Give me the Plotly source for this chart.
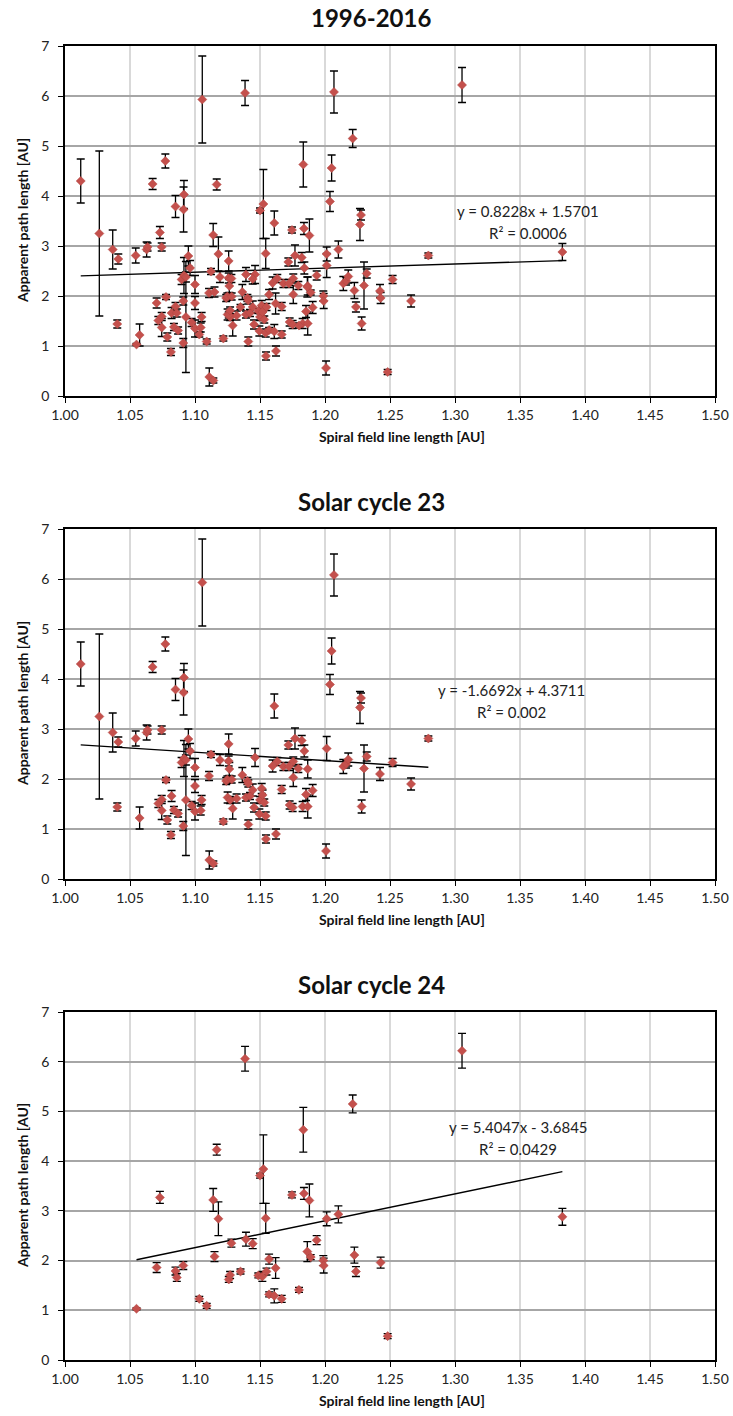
import plotly.graph_objects as go

# ---------------- data ----------------
# Solar cycle 23: spiral field line length [AU], apparent path length [AU], error
c23_x = [1.0121, 1.0264, 1.0367, 1.0402, 1.0410, 1.0544, 1.0574, 1.0628, 1.0635, 1.0674,
         1.0718, 1.0744, 1.0744, 1.0744, 1.0772, 1.0777, 1.0787, 1.0815, 1.0820, 1.0838,
         1.0850, 1.0870, 1.0897, 1.0910, 1.0912, 1.0915, 1.0915, 1.0930, 1.0930, 1.0949,
         1.0962, 1.0974, 1.1000, 1.1000, 1.1000, 1.1044, 1.1051, 1.1056, 1.1108, 1.1110,
         1.1123, 1.1141, 1.1192, 1.1218, 1.1240, 1.1249, 1.1251, 1.1259, 1.1259, 1.1264,
         1.1270, 1.1282, 1.1290, 1.1320, 1.1364, 1.1392, 1.1403, 1.1410, 1.1410, 1.1423,
         1.1444, 1.1454, 1.1462, 1.1495, 1.1500, 1.1513, 1.1520, 1.1533, 1.1544, 1.1546,
         1.1597, 1.1610, 1.1623, 1.1633, 1.1667, 1.1680, 1.1718, 1.1723, 1.1728, 1.1751,
         1.1756, 1.1756, 1.1769, 1.1795, 1.1821, 1.1828, 1.1841, 1.1854, 1.1867, 1.1867,
         1.1905, 1.2008, 1.2013, 1.2038, 1.2051, 1.2069, 1.2141, 1.2162, 1.2179, 1.2269,
         1.2277, 1.2282, 1.2300, 1.2321, 1.2423, 1.2520, 1.2662, 1.2795]
c23_y = [4.30, 3.25, 2.93, 1.44, 2.74, 2.81, 1.22, 2.93, 2.98, 4.24,
         1.51, 2.98, 1.59, 1.37, 4.70, 1.98, 1.18, 0.88, 1.66, 1.38,
         3.79, 1.31, 2.33, 1.06, 3.73, 4.03, 2.41, 2.38, 1.58, 2.80,
         2.56, 1.47, 2.23, 1.86, 1.35, 1.37, 1.58, 5.93, 2.06, 0.38,
         2.49, 0.31, 2.38, 1.15, 1.96, 1.99, 1.63, 2.70, 2.36, 2.20,
         1.58, 1.99, 1.41, 1.61, 2.08, 1.63, 1.96, 1.91, 1.09, 1.66,
         1.78, 1.43, 2.43, 1.30, 1.58, 1.81, 1.68, 1.53, 1.26, 0.80,
         2.26, 3.46, 0.90, 2.35, 1.79, 2.25, 2.68, 2.25, 1.48, 1.43,
         2.35, 2.03, 2.81, 2.21, 2.77, 1.45, 2.56, 1.69, 2.20, 1.45,
         1.77, 0.56, 2.61, 3.89, 4.56, 6.08, 2.25, 2.30, 2.39, 3.43,
         3.62, 1.45, 2.21, 2.45, 2.10, 2.33, 1.90, 2.81]
c23_err = [0.44, 1.65, 0.39, 0.08, 0.10, 0.15, 0.22, 0.15, 0.08, 0.11,
           0.08, 0.08, 0.08, 0.18, 0.14, 0.05, 0.08, 0.07, 0.11, 0.07,
           0.22, 0.07, 0.10, 0.09, 0.45, 0.28, 0.36, 0.10, 1.11, 0.20,
           0.15, 0.08, 0.18, 0.13, 0.17, 0.09, 0.09, 0.87, 0.09, 0.18,
           0.06, 0.05, 0.11, 0.05, 0.07, 0.07, 0.11, 0.20, 0.10, 0.13,
           0.07, 0.07, 0.21, 0.09, 0.15, 0.07, 0.07, 0.07, 0.09, 0.07,
           0.12, 0.09, 0.18, 0.10, 0.07, 0.10, 0.10, 0.07, 0.08, 0.08,
           0.12, 0.24, 0.10, 0.08, 0.08, 0.08, 0.08, 0.08, 0.08, 0.08,
           0.09, 0.18, 0.21, 0.08, 0.10, 0.10, 0.12, 0.12, 0.18, 0.23,
           0.12, 0.14, 0.24, 0.20, 0.26, 0.42, 0.14, 0.08, 0.13, 0.32,
           0.10, 0.13, 0.47, 0.09, 0.13, 0.08, 0.12, 0.05]

# Solar cycle 24
c24_x = [1.0550, 1.0705, 1.0730, 1.0850, 1.0860, 1.0910, 1.1033, 1.1090, 1.1140, 1.1150,
         1.1167, 1.1180, 1.1260, 1.1270, 1.1280, 1.1350, 1.1385, 1.1392, 1.1444, 1.1487,
         1.1500, 1.1518, 1.1526, 1.1544, 1.1550, 1.1570, 1.1570, 1.1610, 1.1620, 1.1667,
         1.1746, 1.1800, 1.1833, 1.1838, 1.1864, 1.1880, 1.1890, 1.1936, 1.1987, 1.1990,
         1.2013, 1.2103, 1.2213, 1.2226, 1.2238, 1.2428, 1.2482, 1.3054, 1.3826]
c24_y = [1.03, 1.86, 3.27, 1.79, 1.66, 1.90, 1.23, 1.09, 3.22, 2.08,
         4.23, 2.84, 1.62, 1.71, 2.35, 1.78, 6.06, 2.43, 2.34, 1.70,
         3.71, 1.68, 3.84, 2.85, 1.78, 2.03, 1.32, 1.29, 1.85, 1.23,
         3.32, 1.41, 4.63, 3.35, 2.18, 3.21, 2.07, 2.41, 2.00, 1.90,
         2.84, 2.93, 5.15, 2.11, 1.78, 1.96, 0.48, 6.22, 2.88]
c24_err = [0.02, 0.10, 0.12, 0.08, 0.08, 0.08, 0.05, 0.05, 0.23, 0.10,
           0.11, 0.34, 0.06, 0.07, 0.08, 0.05, 0.25, 0.14, 0.10, 0.05,
           0.05, 0.10, 0.69, 0.30, 0.07, 0.10, 0.05, 0.14, 0.21, 0.07,
           0.06, 0.05, 0.45, 0.12, 0.20, 0.33, 0.05, 0.09, 0.10, 0.15,
           0.14, 0.17, 0.18, 0.16, 0.10, 0.11, 0.05, 0.35, 0.17]

# trend line equations (slope, intercept, R²) shown on the chart
titles = ["1996-2016", "Solar cycle 23", "Solar cycle 24"]
fits = [(0.8228, 1.5701, "0.0006"), (-1.6692, 4.3711, "0.002"), (5.4047, -3.6845, "0.0429")]
eq_texts = ["y = 0.8228x + 1.5701", "y = -1.6692x + 4.3711", "y = 5.4047x - 3.6845"]
x_ticks = [1.00, 1.05, 1.10, 1.15, 1.20, 1.25, 1.30, 1.35, 1.40, 1.45, 1.50]
y_ticks = [0, 1, 2, 3, 4, 5, 6, 7]
x_title = "Spiral field line length [AU]"
y_title = "Apparent path length [AU]"

datasets = [
    (c23_x + c24_x, c23_y + c24_y, c23_err + c24_err),
    (c23_x, c23_y, c23_err),
    (c24_x, c24_y, c24_err),
]

# ---------------- layout geometry (pixels in the 733x1416 page) ----------------
W, H = 733, 1416
PLOT_L, PLOT_R = 65, 715
panel_top = [46, 529, 1012]
panel_bot = [396, 879, 1360]
eq_pos = [(528, 211), (511, 690), (518, 1127)]
FONT = "Lato"
RED = "#C4504C"

def px(x):
    return x / W

def py(y):
    return 1 - y / H

fig = go.Figure()
annotations = []
for i, (xs, ys, es) in enumerate(datasets):
    n = i + 1
    xa = "x" if n == 1 else f"x{n}"
    ya = "y" if n == 1 else f"y{n}"
    slope, icpt, r2 = fits[i]
    xmin, xmax = min(xs), max(xs)
    fig.add_trace(go.Scatter(x=[xmin, xmax], y=[slope * xmin + icpt, slope * xmax + icpt],
                             mode="lines", line=dict(color="black", width=1.4),
                             xaxis=xa, yaxis=ya, showlegend=False, hoverinfo="skip"))
    fig.add_trace(go.Scatter(x=xs, y=ys, mode="markers",
                             marker=dict(symbol="diamond", size=7, color=RED,
                                         line=dict(width=0.5, color="#B04440")),
                             error_y=dict(type="data", array=es, color="black",
                                          thickness=1.3, width=4),
                             xaxis=xa, yaxis=ya, showlegend=False))
    dom_y = [py(panel_bot[i]), py(panel_top[i])]
    axx = dict(domain=[px(PLOT_L), px(PLOT_R)], range=[1.0, 1.5], tickmode="array",
               tickvals=x_ticks, ticktext=[f"{v:.2f}" for v in x_ticks],
               showgrid=True, gridcolor="#D9D9D9", gridwidth=1.5,
               showline=True, linecolor="black", linewidth=1.5, mirror=True,
               ticks="outside", ticklen=5, tickcolor="black", tickwidth=1,
               tickfont=dict(family=FONT, size=14, color="#222"),
               zeroline=False, anchor=ya, automargin=False, fixedrange=True)
    axy = dict(domain=dom_y, range=[0, 7], tickmode="array", tickvals=y_ticks,
               showgrid=True, gridcolor="#A6A6A6", gridwidth=1.5,
               showline=True, linecolor="black", linewidth=1.5, mirror=True,
               ticks="outside", ticklen=5, tickcolor="black", tickwidth=1,
               ticklabelstandoff=6,
               tickfont=dict(family=FONT, size=14, color="#222"),
               zeroline=False, anchor=xa, automargin=False, fixedrange=True)
    fig.update_layout(**{("xaxis" if n == 1 else f"xaxis{n}"): axx,
                         ("yaxis" if n == 1 else f"yaxis{n}"): axy})
    annotations.append(dict(text=f"<b>{titles[i]}</b>", x=px(371), y=py(panel_top[i] - 28),
                            xref="paper", yref="paper", showarrow=False,
                            font=dict(family=FONT, size=24, color="#111"),
                            xanchor="center", yanchor="middle", borderpad=0))
    annotations.append(dict(text=f"<b>{x_title}</b>", x=px(402), y=py(panel_bot[i] + 40),
                            xref="paper", yref="paper", showarrow=False,
                            font=dict(family=FONT, size=14, color="#111"),
                            xanchor="center", yanchor="middle"))
    annotations.append(dict(text=f"<b>{y_title}</b>", x=px(22),
                            y=py((panel_top[i] + panel_bot[i]) / 2),
                            xref="paper", yref="paper", showarrow=False, textangle=-90,
                            font=dict(family=FONT, size=14, color="#111"),
                            xanchor="center", yanchor="middle"))
    ex, ey = eq_pos[i]
    annotations.append(dict(text=eq_texts[i], x=px(ex), y=py(ey),
                            xref="paper", yref="paper", showarrow=False,
                            font=dict(family=FONT, size=15, color="#222"),
                            xanchor="center", yanchor="middle"))
    annotations.append(dict(text=f"R² = {r2}", x=px(ex), y=py(ey + 22),
                            xref="paper", yref="paper", showarrow=False,
                            font=dict(family=FONT, size=15, color="#222"),
                            xanchor="center", yanchor="middle"))

fig.update_layout(width=W, height=H, margin=dict(l=0, r=0, t=0, b=0),
                  template="none", paper_bgcolor="white", plot_bgcolor="white",
                  annotations=annotations, showlegend=False)

fig.write_html("out.html", config={"displayModeBar": False},
               post_script="document.body.style.margin='0px';")
